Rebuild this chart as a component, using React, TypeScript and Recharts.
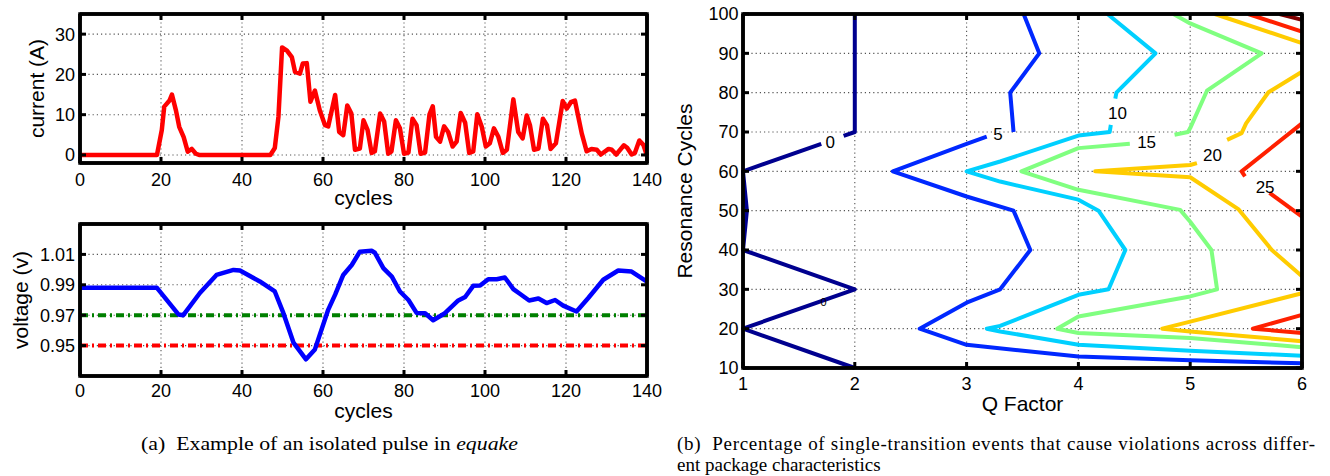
import React from 'react';
import { LineChart, Line, XAxis, YAxis, CartesianGrid, ReferenceLine, ReferenceDot } from 'recharts';

// ---- data ----
const cycleTicks = [0, 20, 40, 60, 80, 100, 120, 140];
const currentTicks = [0, 10, 20, 30];
const voltageTicks = [0.95, 0.97, 0.99, 1.01];
const qTicks = [1, 2, 3, 4, 5, 6];
const resonanceTicks = [10, 20, 30, 40, 50, 60, 70, 80, 90, 100];

// [cycle, current (A)]
const currentTrace: [number, number][] = [
  [0, 0], [19, 0], [20.2, 6.2], [20.8, 12], [22.1, 13.5], [22.7, 15], [23.7, 11], [24.5, 7],
  [25.6, 4.4], [26.6, 0.8], [27.6, 1.5], [28.6, 0.3], [29.4, 0], [47, 0], [48.1, 1.7], [49, 9.5],
  [49.9, 26.7], [51.1, 25.9], [52.3, 24.3], [53.1, 20.6], [54.3, 20.2], [55, 22.7], [56, 22.8],
  [56.9, 13.2], [58, 16], [59.2, 11.1], [60.5, 7.4], [61.3, 7.1], [63, 14.9], [64, 5.7], [65, 4.9],
  [66, 12.3], [67, 10.3], [67.9, 1.3], [69.1, 1.6], [70, 8.6], [71, 6.2], [72, 0.5], [72.8, 0.9],
  [74.1, 10.3], [75.1, 8.3], [76.1, 0.3], [76.9, 0.9], [78, 8.6], [79, 6.6], [80, 0.3], [81.1, 0.6],
  [82.1, 9], [83.1, 7.4], [84.1, 0.3], [85.2, 0.6], [86.3, 10.1], [87.1, 12.1], [87.9, 4.5],
  [88.9, 3.3], [89.9, 7.1], [90.9, 5.7], [92, 2.1], [93, 3.3], [94, 10.4], [95.1, 8], [96.1, 0.5],
  [97.1, 0.9], [98.1, 10.1], [99.2, 7], [100.2, 2.1], [101.2, 2.9], [102.2, 6.6], [103.3, 4.5],
  [104.4, 0.5], [105.4, 1.3], [107, 13.8], [108.2, 5.7], [109.3, 4.1], [110.3, 9.8], [111.1, 7.4],
  [112.1, 1.3], [113.2, 1.6], [114.3, 9], [115.3, 7.4], [116.2, 1.5], [117.5, 2.9], [119.2, 13.4],
  [120.2, 11.5], [121.2, 13.1], [122.2, 13.5], [123.9, 5.3], [125.1, 0.9], [126.3, 1.5], [127.6, 1.3],
  [128.6, 0.1], [130.5, 1.5], [131.3, 1.3], [132.4, 0.1], [134.3, 2.4], [135.1, 1.8], [136.2, 0.1],
  [137, 0.5], [138.1, 3.6], [139.1, 2.5], [140, -0.2],
];

// [cycle, voltage (v)]
const voltageTrace: [number, number][] = [
  [0, 0.988], [19, 0.988], [24.3, 0.9705], [25.5, 0.97], [29.6, 0.9846], [33.7, 0.9965],
  [37.9, 0.9998], [39.5, 0.9994], [44.4, 0.9922], [48.1, 0.9856], [50.2, 0.9715], [52.7, 0.952],
  [55.8, 0.941], [58, 0.9475], [61.3, 0.9737], [63, 0.9835], [65, 0.9965], [67.1, 1.003],
  [69.1, 1.0118], [72, 1.0124], [72.8, 1.0111], [74.9, 1.001], [77, 0.9954], [79, 0.9856],
  [81.1, 0.98], [83.1, 0.9715], [85.2, 0.9713], [87.2, 0.9667], [90.1, 0.9713], [93.4, 0.9797],
  [95.1, 0.982], [97.1, 0.9893], [98.8, 0.9895], [100.8, 0.9937], [102.9, 0.9937], [104.9, 0.9948],
  [107, 0.9872], [108.6, 0.9841], [110.9, 0.9797], [113.2, 0.981], [115.2, 0.978], [117.3, 0.98],
  [119.3, 0.9763], [122.6, 0.9724], [125.5, 0.9813], [129.2, 0.9933], [132.9, 0.9994],
  [136.2, 0.9987], [139.9, 0.9922],
];

const voltageLimits = [0.97, 0.95];

// contour lines, [Q factor, resonance cycles]; each level is a list of pieces (broken at labels)
const contourLevels = [0, 5, 10, 15, 20, 25, 30];
const contour0: [number, number][][] = [
  [[2, 100], [2, 70], [1.9, 69]],
  [[1.7, 67], [1, 60], [1.035, 50], [1, 40], [2, 30], [1, 20], [2, 10]],
];
const contour5: [number, number][][] = [
  [[3.51, 100], [3.65, 90], [3.39, 80], [3.42, 70]],
  [[3.18, 68.8], [3, 67], [2.34, 60], [3, 53.6], [3.42, 50], [3.57, 40], [3.3, 30], [3, 26.6],
   [2.58, 20], [3, 15.9], [4, 12.9], [5, 12], [6, 11.2]],
];
const contour10: [number, number][][] = [
  [[4.26, 100], [4.69, 90], [4.34, 80], [4.33, 78.5]],
  [[4.29, 71.8], [4.28, 70], [4, 69.1], [3.3, 62.5], [3, 60], [3.3, 57.4], [4, 52.8], [4.18, 50],
   [4.42, 40], [4.27, 30], [4, 28.6], [3.3, 20.7], [3.18, 20], [3.3, 19.3], [4, 15.9], [5, 14.4], [6, 13.1]],
];
const contour15: [number, number][][] = [
  [[4.85, 100], [5, 97.6], [5.64, 90], [5.15, 80.5], [5, 71], [4.98, 70], [4.86, 69.3]],
  [[4.46, 67], [4, 65.9], [3.49, 60], [4, 55.3], [4.91, 50.2], [5, 47.2], [5.19, 40], [5.24, 30],
   [5, 28.2], [4, 23.1], [3.81, 20], [4, 18.9], [5, 17.6], [6, 15.3]],
];
const contour20: [number, number][][] = [
  [[5.22, 100], [6, 92.6]],
  [[6, 85.3], [5.7, 80.1], [5.5, 72.2], [5.46, 69.7], [5.33, 68]],
  [[5.06, 62.1], [5, 61.6], [4.15, 60], [5, 58.5], [5.43, 50.4], [5.73, 40], [6, 33.3]],
  [[6, 29], [5, 21.8], [4.75, 20], [5, 19.3], [6, 16.8]],
];
const contour25: [number, number][][] = [
  [[5.52, 100], [6, 95.5]],
  [[6, 72.2], [5.46, 60], [5.49, 58.7]],
  [[5.71, 54.5], [6, 48.5]],
  [[6, 23.5], [5.56, 20], [6, 18.9]],
];
const contour30: [number, number][][] = [
  [[5.8, 100], [6, 98.5]],
];
const contours = [contour0, contour5, contour10, contour15, contour20, contour25, contour30];

const contourLabels = [
  { text: '0', q: 1.78, r: 67.6, small: false },
  { text: '0', q: 1.72, r: 26.8, small: true },
  { text: '5', q: 3.28, r: 69.5, small: false },
  { text: '10', q: 4.35, r: 74.8, small: false },
  { text: '15', q: 4.61, r: 67.6, small: false },
  { text: '20', q: 5.2, r: 64.2, small: false },
  { text: '25', q: 5.67, r: 56.1, small: false },
];

// ---- styling ----
const FONT = '"Liberation Sans", Arial, Helvetica, sans-serif';
const SERIF = '"Liberation Serif", "Times New Roman", serif';
const contourColors = ['#00008f', '#0028ff', '#00d0ff', '#80ff80', '#ffcc00', '#ff2000', '#800000'];
const limitColors = ['#008000', '#ff0000'];
const INK = '#000000';
const TICK_LEN = 6;
const TICK_FONT = 18;
const TITLE_FONT = 21;

type Side = 'bottom' | 'top' | 'left' | 'right';

// MATLAB-like ticks: marks point into the box, labels sit outside
const tickFor = (side: Side, gap: number, fmt?: (v: number) => string) => (props: any) => {
  const x = Number(props.x);
  const y = Number(props.y);
  const label = fmt ? fmt(props.payload.value) : String(props.payload.value);
  if (side === 'bottom') {
    const edge = y - gap;
    return (
      <g>
        <rect x={x - 1.5} y={edge - TICK_LEN} width={3} height={TICK_LEN} fill={INK} />
        <text x={x} y={y} dy="0.36em" textAnchor="middle" fontSize={TICK_FONT} fontFamily={FONT} fill="#000">
          {label}
        </text>
      </g>
    );
  }
  if (side === 'left') {
    const edge = x + gap;
    return (
      <g>
        <rect x={edge} y={y - 1.5} width={TICK_LEN} height={3} fill={INK} />
        <text x={x} y={y} dy="0.36em" textAnchor="end" fontSize={TICK_FONT} fontFamily={FONT} fill="#000">
          {label}
        </text>
      </g>
    );
  }
  if (side === 'top') return <rect x={x - 1.5} y={y} width={3} height={TICK_LEN} fill={INK} />;
  return <rect x={x - TICK_LEN} y={y - 1.5} width={TICK_LEN} height={3} fill={INK} />;
};

const yTitle = (value: string, offset: number) => ({
  value, angle: -90, position: 'insideLeft' as const, offset,
  style: { textAnchor: 'middle' as const }, fontSize: TITLE_FONT, fill: '#000', fontFamily: FONT,
});
const xTitle = (value: string, offset: number) => ({
  value, position: 'insideBottom' as const, offset, fontSize: TITLE_FONT, fill: '#000', fontFamily: FONT,
});

const grid = <CartesianGrid stroke="#555" strokeWidth={1.1} strokeDasharray="1.2 3" />;
const axisLine = { stroke: INK, strokeWidth: 3.5 };

// bottom/left axes carry labels, top/right axes only add inward ticks
const frameAxes = (
  xDomain: [number, number], xTicks: number[], yDomain: [number, number], yTicks: number[],
  opts: { xHeight: number; xGap: number; yWidth: number; yGap: number; xLabel: any; yLabel: any; yFmt?: (v: number) => string },
) => [
  <XAxis key="xb" dataKey="x" type="number" domain={xDomain} ticks={xTicks} interval={0}
    height={opts.xHeight} tickSize={0} tickMargin={opts.xGap} tickLine={false} stroke={INK} axisLine={axisLine}
    tick={tickFor('bottom', opts.xGap)} label={opts.xLabel} />,
  <XAxis key="xt" xAxisId="top" orientation="top" dataKey="x" type="number" domain={xDomain} ticks={xTicks}
    interval={0} allowDataOverflow height={1} tickSize={0} tickMargin={0} tickLine={false} stroke={INK}
    axisLine={axisLine} tick={tickFor('top', 0)} />,
  <YAxis key="yl" type="number" domain={yDomain} ticks={yTicks} interval={0} width={opts.yWidth}
    tickSize={0} tickMargin={opts.yGap} tickLine={false} stroke={INK} axisLine={axisLine}
    tick={tickFor('left', opts.yGap, opts.yFmt)} label={opts.yLabel} />,
  <YAxis key="yr" yAxisId="right" orientation="right" type="number" domain={yDomain} ticks={yTicks} interval={0}
    allowDataOverflow width={1} tickSize={0} tickMargin={0} tickLine={false} stroke={INK}
    axisLine={axisLine} tick={tickFor('right', 0)} />,
];

// the plot box, drawn as a closed series through the domain corners
const frameLine = (xd: [number, number], yd: [number, number]) => (
  <Line key="frame" data={[
    { x: xd[0], y: yd[0] }, { x: xd[0], y: yd[1] }, { x: xd[1], y: yd[1] },
    { x: xd[1], y: yd[0] }, { x: xd[0], y: yd[0] },
  ]} dataKey="y" stroke={INK} strokeWidth={3.5} strokeLinecap="square" dot={false} activeDot={false}
    isAnimationActive={false} />
);

const toPoints = (pairs: [number, number][]) => pairs.map(([x, y]) => ({ x, y }));

const CurrentPanel = () => (
  <LineChart width={690} height={215} margin={{ top: 13, right: 42, bottom: 0, left: 0 }}>
    {grid}
    {frameAxes([0, 140], cycleTicks, [-2, 35], currentTicks, {
      xHeight: 52, xGap: 17, yWidth: 80, yGap: 5,
      xLabel: xTitle('cycles', 10), yLabel: yTitle('current (A)', 37),
    })}
    <Line data={toPoints(currentTrace)} dataKey="y" stroke="#ff0000" strokeWidth={4.5} dot={false}
      activeDot={false} strokeLinejoin="round" isAnimationActive={false} />
    {frameLine([0, 140], [-2, 35])}
  </LineChart>
);

const VoltagePanel = () => (
  <LineChart width={690} height={220} margin={{ top: 13, right: 42, bottom: 0, left: 0 }}>
    {grid}
    {frameAxes([0, 140], cycleTicks, [0.93, 1.03], voltageTicks, {
      xHeight: 54, xGap: 15, yWidth: 80, yGap: 5,
      xLabel: xTitle('cycles', 12), yLabel: yTitle('voltage (v)', 21), yFmt: (v) => v.toFixed(2),
    })}
    {voltageLimits.map((v, i) => (
      <ReferenceLine key={v} y={v} stroke={limitColors[i]} strokeWidth={4} strokeDasharray="8 4 2 4" />
    ))}
    <Line data={toPoints(voltageTrace)} dataKey="y" stroke="#0000ff" strokeWidth={4.5} dot={false}
      activeDot={false} strokeLinejoin="round" isAnimationActive={false} />
    {frameLine([0, 140], [0.93, 1.03])}
  </LineChart>
);

const ContourPanel = () => (
  <LineChart width={670} height={430} margin={{ top: 13, right: 27, bottom: 0, left: 0 }}>
    {grid}
    {frameAxes([1, 6], qTicks, [10, 100], resonanceTicks, {
      xHeight: 62, xGap: 16, yWidth: 83, yGap: 4.5,
      xLabel: xTitle('Q Factor', 19), yLabel: yTitle('Resonance Cycles', 25),
    })}
    {contours.map((pieces, li) =>
      pieces.map((piece, pi) => (
        <Line key={`c${contourLevels[li]}-${pi}`} data={toPoints(piece)} dataKey="y" stroke={contourColors[li]}
          strokeWidth={4} dot={false} activeDot={false} strokeLinejoin="round" isAnimationActive={false} />
      )),
    )}
    {contourLabels.map((l, i) => (
      <ReferenceDot key={i} x={l.q} y={l.r} r={0}
        shape={(p: any) => (
          <text x={p.cx} y={p.cy} dy="0.36em" textAnchor="middle" fontSize={l.small ? 11 : 17}
            fontFamily={FONT} fill="#000">
            {l.text}
          </text>
        )} />
    ))}
    {frameLine([1, 6], [10, 100])}
  </LineChart>
);

export default function App() {
  return (
    <div style={{ position: 'absolute', left: 0, top: 0, width: 1330, height: 476, background: '#fff' }}>
      <div style={{ position: 'absolute', left: 0, top: 0 }}><CurrentPanel /></div>
      <div style={{ position: 'absolute', left: 0, top: 210 }}><VoltagePanel /></div>
      <div style={{ position: 'absolute', left: 660, top: 0 }}><ContourPanel /></div>
      <svg width={1330} height={46} style={{ position: 'absolute', left: 0, top: 430 }}>
        <text x={329.5} y={20} textAnchor="middle" fontSize={19} fontFamily={SERIF} fill="#000"
          textLength={377} lengthAdjust="spacingAndGlyphs">
          (a)&#160;&#160;Example of an isolated pulse in <tspan fontStyle="italic">equake</tspan>
        </text>
        <text x={677} y={20} fontSize={19} fontFamily={SERIF} fill="#000" textLength={638} lengthAdjust="spacing">
          (b)&#160;&#160;Percentage of single-transition events that cause violations across differ-
        </text>
        <text x={677} y={41} fontSize={19} fontFamily={SERIF} fill="#000">ent package characteristics</text>
      </svg>
    </div>
  );
}
